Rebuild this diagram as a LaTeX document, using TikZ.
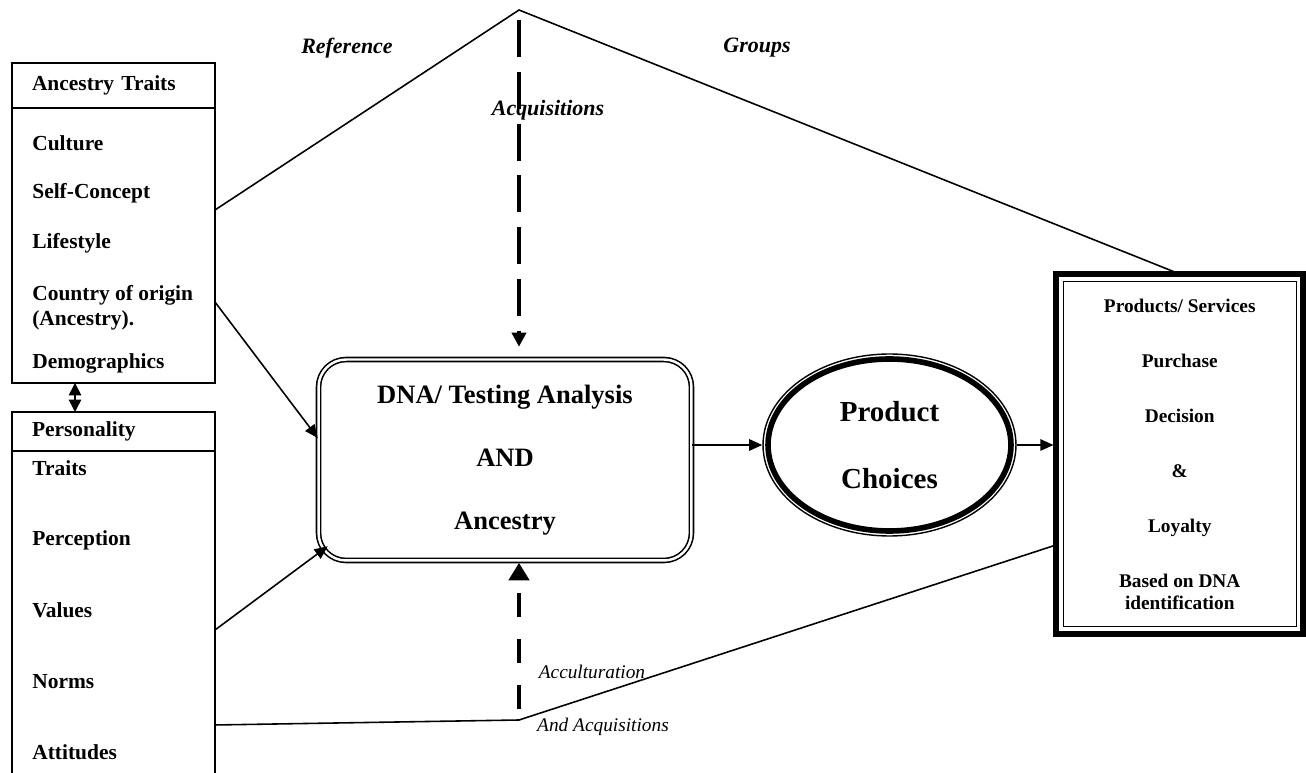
\documentclass[tikz,border=0pt]{standalone}
\usepackage{fontspec}
\setmainfont{Liberation Serif}
\usetikzlibrary{arrows.meta,shapes.geometric}

\begin{document}
\begin{tikzpicture}[x=0.02cm,y=-0.02cm,
    box/.style={shape=rectangle,draw,line width=1pt,inner sep=0pt,outer sep=0pt,minimum width=4.06cm},
    header/.style={box,text width=3.26cm,inner xsep=0.4cm,align=left,font=\fontsize{12.2}{14.2}\selectfont\bfseries},
    item/.style={anchor=west,inner sep=0pt,align=left,font=\fontsize{12.2}{14.2}\selectfont\bfseries},
    flow/.style={line width=0.9pt,-{Triangle[length=7.5pt,width=6.5pt]}},
    link/.style={line width=0.9pt},
    acqdash/.style={line width=2.8pt},
    tag/.style={font=\fontsize{12.5}{14}\selectfont\bfseries\itshape},
    note/.style={font=\fontsize{11}{13}\selectfont\itshape}]
    \useasboundingbox (0,0) rectangle (1306,773);
    \fill[white] (0,0) rectangle (1306,773);

    % left: ancestry traits
    \node[header,minimum height=0.9cm] (ah) at (113.5,85.5) {Ancestry Traits};
    \node[box,minimum height=5.5cm] (ab) at (113.5,245.5) {};
    \foreach \y/\t [count=\i] in {143/Culture,193/Self-Concept,243/Lifestyle,307.5/{Country of origin\\(Ancestry).},363/Demographics}
        \node[item] (anc-\i) at (32,\y) {\t};

    % left: personality
    \node[header,minimum height=0.78cm] (ph) at (113.5,431.5) {Personality};
    \node[box,minimum height=6.98cm] (pb) at (113.5,625.5) {};
    \foreach \y/\t [count=\i] in {468/Traits,540/Perception,610/Values,682/Norms,752/Attitudes}
        \node[item] (per-\i) at (32,\y) {\t};

    % middle and right
    \node[shape=rectangle,draw,double,line width=0.9pt,double distance=1.4pt,rounded corners=0.55cm,
          minimum width=7.46cm,minimum height=4.02cm,align=center,
          font=\fontsize{15.1}{35.9}\selectfont\bfseries] (dna) at (505,460) {DNA/ Testing Analysis\\AND\\Ancestry};
    \node[shape=ellipse,draw,line width=0.8pt,inner sep=0pt,minimum width=5.06cm,minimum height=3.64cm,
          align=center,font=\fontsize{16.5}{38.1}\selectfont\bfseries] (pc) at (889.5,445) {Product\\Choices};
    \draw[line width=3.2pt] (pc.center) ellipse [x radius=2.43cm, y radius=1.72cm];
    \node[shape=rectangle,draw,line width=3.4pt,inner sep=0pt,outer sep=0pt,minimum width=4.95cm,minimum height=7.2cm,
          align=center,font=\fontsize{11}{12.5}\selectfont\bfseries] (rb) at (1179.75,454)
          {Products/ Services\\[18.8pt]Purchase\\[18.8pt]Decision\\[18.8pt]\&\\[18.8pt]Loyalty\\[18.8pt]Based on DNA\\identification};
    \draw[line width=0.6pt] ([shift={(4pt,-4pt)}]rb.north west) rectangle ([shift={(-4pt,4pt)}]rb.south east);

    \coordinate (apex) at (519,10);
    \coordinate (kink) at (519,720);

    % connectors
    \draw[link,{Triangle[length=7pt,width=7pt]}-{Triangle[length=7pt,width=7pt]}] ([xshift=-0.77cm]ab.south) -- ([xshift=-0.77cm]ph.north);
    \draw[link] ([yshift=0.71cm]ab.east) -- (apex) -- (rb.north);
    \draw[flow] ([yshift=-1.13cm]ab.east) -- ([yshift=0.44cm]dna.west);
    \draw[flow] ([yshift=-0.09cm]pb.east) -- ([xshift=0.2cm,yshift=0.3cm]dna.south west);
    \draw[link] ([yshift=-1.99cm]pb.east) -- (kink) -- ([yshift=-1.82cm]rb.west);
    \draw[flow] (pc.west -| dna.east) -- (pc.west);
    \draw[flow,shorten >=0.05cm] (pc.east) -- (pc.east -| rb.west);
    \draw[acqdash,dash pattern=on 21pt off 8.5pt,shorten <=0.2cm,shorten >=0.24cm,-{Triangle[length=8pt,width=8pt]}] (apex) -- (apex |- dna.north);
    \draw[acqdash,dash pattern=on 13.7pt off 12.5pt,shorten <=0.22cm,shorten >=0.03cm,-{Triangle[length=10pt,width=11.4pt]}] (kink) -- (kink |- dna.south);

    % labels
    \node[tag] (ref) at (347,48) {Reference};
    \node[tag] (grp) at (757,48) {Groups};
    \node[tag] (acq) at (548,110) {Acquisitions};
    \node[note] (acc) at (592,672) {Acculturation};
    \node[note] (aacq) at (603,727) {And Acquisitions};
\end{tikzpicture}
\end{document}
